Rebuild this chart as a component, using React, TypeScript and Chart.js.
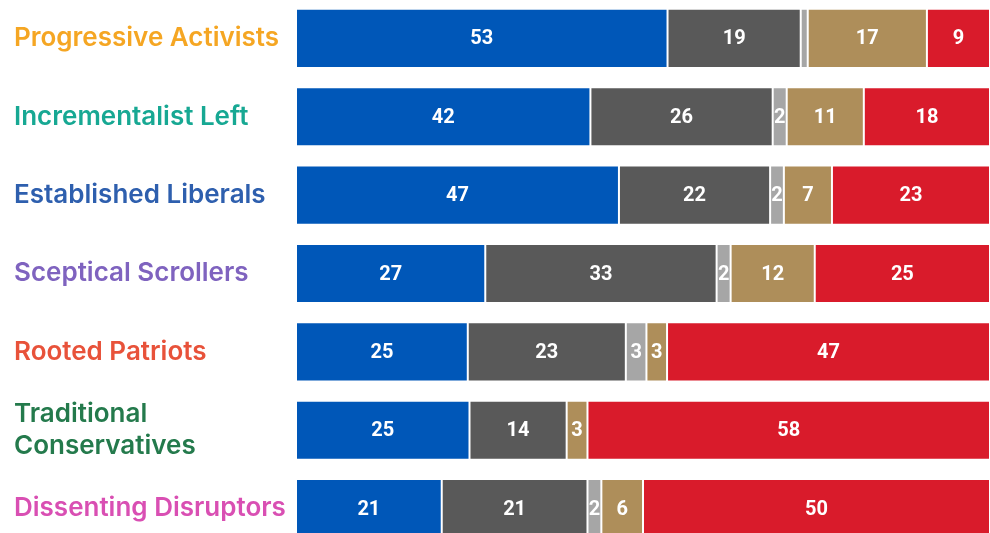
import React, { useEffect, useRef } from "react";
import { Chart, registerables } from "chart.js";

Chart.register(...registerables);

const categories: (string | string[])[] = [
  "Progressive Activists",
  "Incrementalist Left",
  "Established Liberals",
  "Sceptical Scrollers",
  "Rooted Patriots",
  ["Traditional", "Conservatives"],
  "Dissenting Disruptors",
];
const categoryColors = ["#F5A623", "#17A893", "#2E5FAE", "#7F63BF", "#E8523A", "#247A4C", "#D94FB3"];

const seriesNames = ["S1", "S2", "S3", "S4", "S5"];
const seriesColors = ["#0057B8", "#595959", "#A6A6A6", "#AE8E5A", "#D91B2B"];
const s1 = [53, 42, 47, 27, 25, 25, 21];
const s2 = [19, 26, 22, 33, 23, 14, 21];
const s3 = [1, 2, 2, 2, 3, 0, 2];
const s4 = [17, 11, 7, 12, 3, 3, 6];
const s5 = [9, 18, 23, 25, 47, 58, 50];
const seriesValues = [s1, s2, s3, s4, s5];
const minLabelValue = 2;

const totals = categories.map((_, i) => seriesValues.reduce((a, s) => a + s[i], 0));

const labelPlugin = {
  id: "segLabels",
  afterDatasetsDraw(chart: any) {
    const ctx = chart.ctx;
    ctx.save();
    ctx.fillStyle = "#ffffff";
    ctx.font = "bold 20px Roboto";
    ctx.textAlign = "center";
    ctx.textBaseline = "middle";
    chart.data.datasets.forEach((ds: any, di: number) => {
      const meta = chart.getDatasetMeta(di);
      meta.data.forEach((el: any, i: number) => {
        const v = seriesValues[di][i];
        if (v < minLabelValue) return;
        const { x, base, y } = el.getProps(["x", "base", "y"], true);
        ctx.fillText(String(v), (x + base) / 2, y + 1);
      });
    });
    ctx.restore();
  },
};

export default function App() {
  const ref = useRef<HTMLCanvasElement>(null);
  useEffect(() => {
    const chart = new Chart(ref.current!, {
      type: "bar",
      data: {
        labels: categories,
        datasets: seriesValues.map((vals, si) => ({
          label: seriesNames[si],
          data: vals.map((v, i) => (v / totals[i]) * 100),
          backgroundColor: seriesColors[si],
          borderColor: "rgba(255,255,255,0.85)",
          borderWidth: 1,
          borderSkipped: false,
          categoryPercentage: 1,
          barPercentage: 0.755,
        })),
      },
      options: {
        indexAxis: "y",
        animation: false,
        responsive: true,
        maintainAspectRatio: false,
        layout: { padding: { left: 14, right: 0, top: 0, bottom: 0 } },
        plugins: { legend: { display: false }, tooltip: { enabled: false } },
        scales: {
          x: { stacked: true, display: false, min: 0, max: 100 },
          y: {
            stacked: true,
            grid: { display: false },
            border: { display: false },
            afterFit: (scale: any) => {
              scale.width = 282;
            },
            ticks: {
              crossAlign: "far",
              color: (c: any) => categoryColors[c.index],
              font: { family: "Inter", size: 26, weight: "600", lineHeight: 1.25 },
            },
          },
        },
      },
      plugins: [labelPlugin],
    });
    return () => chart.destroy();
  }, []);
  return (
    <div style={{ position: "absolute", left: 0, top: -20, width: 990, height: 587 }}>
      <canvas ref={ref} />
    </div>
  );
}
